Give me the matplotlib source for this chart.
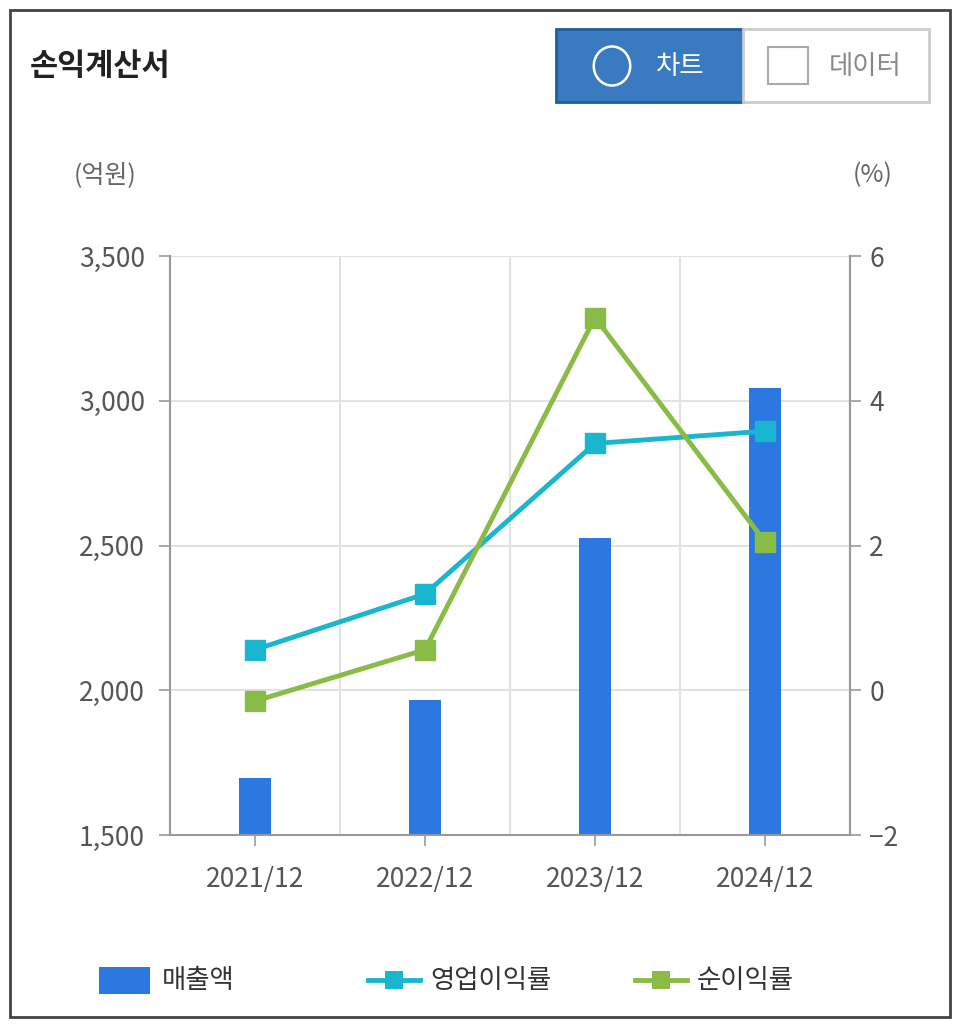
import numpy as np
import matplotlib.pyplot as plt
from matplotlib.patches import Rectangle, Circle
from matplotlib.lines import Line2D

plt.rcParams['font.family'] = ['Noto Sans CJK KR', 'DejaVu Sans']

periods = ['2021/12', '2022/12', '2023/12', '2024/12']
sales = [1697, 1966, 2526, 3044]
op_margin = [0.56, 1.33, 3.41, 3.58]
net_margin = [-0.15, 0.56, 5.15, 2.05]

W, H = 960, 1027
fig = plt.figure(figsize=(9.6, 10.27), dpi=100)

def fx(px):
    return px / W

def fy(py):
    return 1 - py / H

ax = fig.add_axes([fx(170), fy(835), fx(850) - fx(170), fy(256) - fy(835)])
x = np.arange(len(periods)) + 0.5
ax.bar(x, sales, width=0.19, color='#2a78e0', zorder=2)
ax.set_xlim(0, 4)
ax.set_ylim(1500, 3500)
ax.set_yticks([1500, 2000, 2500, 3000, 3500])
ax.set_yticklabels(['1,500', '2,000', '2,500', '3,000', '3,500'])
ax.set_xticks(x)
ax.set_xticklabels(periods)
for v in [1, 2, 3]:
    ax.axvline(v, color='#e2e2e2', lw=1.5, zorder=0)
for v in [2000, 2500, 3000, 3500]:
    ax.axhline(v, color='#e2e2e2', lw=1.5, zorder=0)
ax.spines['top'].set_visible(False)
for s in ['left', 'right', 'bottom']:
    ax.spines[s].set_color('#999999')
    ax.spines[s].set_linewidth(1.5)
ax.tick_params(axis='both', colors='#999999', labelcolor='#555555', labelsize=19, length=8, width=1.2)
ax.tick_params(axis='x', pad=14)
ax.tick_params(axis='y', pad=10)

ax2 = ax.twinx()
ax2.set_ylim(-2, 6)
ax2.set_yticks([-2, 0, 2, 4, 6])
ax2.plot(x, op_margin, color='#1ab5cf', lw=3.5, marker='s', markersize=15, zorder=3)
ax2.plot(x, net_margin, color='#8abb46', lw=3.5, marker='s', markersize=15, zorder=3)
for s in ['top', 'left', 'bottom']:
    ax2.spines[s].set_visible(False)
ax2.spines['right'].set_color('#999999')
ax2.spines['right'].set_linewidth(1.5)
ax2.tick_params(axis='y', colors='#999999', labelcolor='#555555', labelsize=19, length=8, width=1.2, pad=6)

fig.text(fx(105), fy(175), '(억원)', fontsize=18, color='#666666', ha='center', va='center')
fig.text(fx(873), fy(175), '(%)', fontsize=18, color='#666666', ha='center', va='center')
fig.text(fx(30), fy(66), '손익계산서', fontsize=22, fontweight='bold', color='#222222', va='center')

# frame
fig.patches.append(Rectangle((fx(10), fy(1017)), fx(940), fy(10) - fy(1017),
                             transform=fig.transFigure, fill=False, ec='#444444', lw=2))
# buttons
fig.patches.append(Rectangle((fx(556), fy(102)), fx(187), fy(29) - fy(102),
                             transform=fig.transFigure, fc='#3a7ac0', ec='#1f5d9e', lw=2))
fig.patches.append(Rectangle((fx(743), fy(102)), fx(186), fy(29) - fy(102),
                             transform=fig.transFigure, fc='white', ec='#cccccc', lw=2))
fig.patches.append(Circle((fx(612), fy(66)), 0.019, transform=fig.transFigure,
                          fill=False, ec='white', lw=1.8))
fig.text(fx(680), fy(66), '차트', fontsize=19, color='white', ha='center', va='center')
fig.patches.append(Rectangle((fx(768), fy(84)), fx(40), fy(47) - fy(84),
                             transform=fig.transFigure, fill=False, ec='#aaaaaa', lw=1.5))
fig.text(fx(865), fy(66), '데이터', fontsize=19, color='#888888', ha='center', va='center')

# legend
fig.patches.append(Rectangle((fx(99), fy(994)), fx(51), fy(967) - fy(994),
                             transform=fig.transFigure, fc='#2a78e0'))
fig.text(fx(162), fy(980), '매출액', fontsize=19, color='#333333', va='center')
for x0, c, lab in [(368, '#1ab5cf', '영업이익률'), (635, '#8abb46', '순이익률')]:
    fig.lines.append(Line2D([fx(x0), fx(x0 + 52)], [fy(980), fy(980)], transform=fig.transFigure,
                            color=c, lw=3.5))
    fig.patches.append(Rectangle((fx(x0 + 17), fy(989)), fx(18), fy(971) - fy(989),
                                 transform=fig.transFigure, fc=c))
    fig.text(fx(x0 + 62), fy(980), lab, fontsize=19, color='#333333', va='center')

fig.savefig('out.png', dpi=100)
